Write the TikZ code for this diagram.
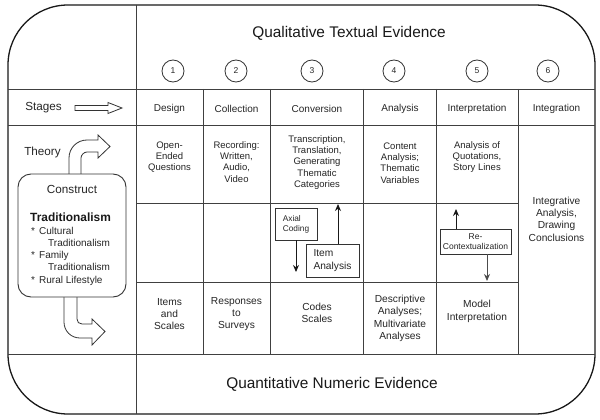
\documentclass[tikz,border=0pt]{standalone}
\usepackage{fontspec}
\setmainfont{Liberation Sans}
\usetikzlibrary{arrows.meta}
\begin{document}
\begin{tikzpicture}[x=1pt,y=-1pt,
  frame/.style={draw=black!90,line width=1.3pt},
  gridline/.style={draw=black!75,line width=0.9pt},
  cell/.style={align=center,inner sep=0pt,text=black!85,font=\fontsize{9.5}{11.2}\selectfont},
  cellb/.style={align=center,inner sep=0pt,text=black!85,font=\fontsize{10.2}{12.3}\selectfont},
  stagelbl/.style={inner sep=0pt,text=black!85,font=\fontsize{10}{12}\selectfont},
  rowlbl/.style={inner sep=0pt,text=black!85,font=\fontsize{11.7}{14}\selectfont},
  bigtitle/.style={inner sep=0pt,text=black!90,font=\fontsize{15.4}{18}\selectfont},
  numc/.style={circle,draw=black!80,line width=0.8pt,minimum size=22pt,inner sep=0pt,text=black!85,font=\fontsize{8.5}{10}\selectfont},
  smallbox/.style={draw=black!80,line width=0.8pt,inner sep=0pt,fill=white,text=black!85},
  hollow/.style={draw=black!80,line width=0.8pt,fill=white},
  listtxt/.style={inner sep=0pt,anchor=base west,text=black!85,font=\fontsize{10}{12}\selectfont},
  flow/.style={-{Stealth[length=7pt,width=6pt]},line width=1pt,draw=black!90}
]
\useasboundingbox (0,0) rectangle (600,420);
\fill[white] (0,0) rectangle (600,420);

% outer frame
\draw[frame,rounded corners=60pt] (8,5) rectangle (595,414);

% grid
\draw[gridline] (136,5) -- (136,414);
\draw[gridline] (8,89) -- (595,89);
\draw[gridline] (8,125) -- (595,125);
\draw[gridline] (8,354) -- (595,354);
\draw[gridline] (136,203) -- (518,203);
\draw[gridline] (136,282) -- (518,282);
\foreach \xx in {203,270,363,436,518} \draw[gridline] (\xx,89) -- (\xx,354);

% titles
\node[bigtitle] (qual) at (349,33) {Qualitative Textual Evidence};
\node[bigtitle] (quant) at (332,384) {Quantitative Numeric Evidence};

% numbered circles
\node[numc] (n1) at (173,71) {1};
\node[numc] (n2) at (236,71) {2};
\node[numc] (n3) at (312,71) {3};
\node[numc] (n4) at (394,71) {4};
\node[numc] (n5) at (477,71) {5};
\node[numc] (n6) at (548,71) {6};

% stage row
\node[rowlbl] (stages) at (43.5,108) {Stages};
\draw[hollow] (75,105.5) -- (108,105.5) -- (108,102.5) -- (122,108) -- (108,113.5) -- (108,110.5) -- (75,110.5) -- cycle;
\node[stagelbl] (s1) at (169.5,108.5) {Design};
\node[stagelbl] (s2) at (236.5,108.5) {Collection};
\node[stagelbl] (s3) at (317,108.5) {Conversion};
\node[stagelbl] (s4) at (400,108.5) {Analysis};
\node[stagelbl] (s5) at (477,108.5) {Interpretation};
\node[stagelbl] (s6) at (556.5,108.5) {Integration};

% qualitative row
\node[cell] (q1) at (169.5,157) {Open-\\Ended\\Questions};
\node[cell] (q2) at (236.5,162) {Recording:\\Written,\\Audio,\\Video};
\node[cell] (q3) at (317,162.5) {Transcription,\\Translation,\\Generating\\Thematic\\Categories};
\node[cell] (q4) at (400,163) {Content\\Analysis;\\Thematic\\Variables};
\node[cell] (q5) at (477,157) {Analysis of\\Quotations,\\Story Lines};
\node[cellb] (integ) at (556.5,219) {Integrative\\Analysis,\\Drawing\\Conclusions};

% quantitative row
\node[cellb] (r1) at (169.5,314) {Items\\and\\Scales};
\node[cellb] (r2) at (236.5,314) {Responses\\to\\Surveys};
\node[cellb] (r3) at (317,313) {Codes\\Scales};
\node[cellb] (r4) at (400,318.5) {Descriptive\\Analyses;\\Multivariate\\Analyses};
\node[cellb] (r5) at (477,311.5) {Model\\Interpretation};

% middle row boxes and arrows
\node[smallbox,minimum width=42pt,minimum height=32pt,align=left,font=\fontsize{8.3}{10}\selectfont] (axial) at (296,224) {Axial\\Coding};
\node[smallbox,minimum width=53pt,minimum height=33pt,align=left,font=\fontsize{10.2}{12.5}\selectfont] (item) at (332.5,260.5) {Item\\Analysis};
\node[smallbox,minimum width=71pt,minimum height=25pt,align=center,font=\fontsize{8.5}{9.5}\selectfont] (recon) at (475.5,241.5) {Re-\\Contextualization};
\coordinate (axEnd) at (296,272);
\coordinate (itEnd) at (338,204);
\coordinate (reUp) at (456,209);
\coordinate (reDown) at (487,281);
\draw[flow] (axial.south) -- (axEnd);
\draw[flow] ([xshift=5.5pt]item.north) -- (itEnd);
\draw[flow] ([xshift=-19.5pt]recon.north) -- (reUp);
\draw[flow,draw=black!70] ([xshift=11.5pt]recon.south) -- (reDown);

% theory and construct
\node[rowlbl] (theory) at (42.5,152) {Theory};
\draw[hollow] (69,175) -- (69,158) .. controls (69,148) and (77,140) .. (87,140) -- (98,140) -- (98,135) -- (110,146.5) -- (98,158) -- (98,152) -- (87,152) .. controls (84,152) and (81,155) .. (81,158) -- (81,175);
\draw[hollow] (64,296) -- (64,322) .. controls (64,331) and (71,338) .. (80,338) -- (92,338) -- (92,345) -- (105,331.5) -- (92,319) -- (92,324) -- (82,324) .. controls (79,324) and (77,322) .. (77,319) -- (77,296);
\node[draw=black!80,line width=0.9pt,fill=white,rounded corners=13pt,minimum width=108pt,minimum height=123pt] (construct) at (72,235.5) {};
\node[rowlbl] (ctitle) at (72,189) {Construct};
\node[inner sep=0pt,text=black!90,font=\bfseries\fontsize{11.9}{14}\selectfont] (trad) at (70.5,217) {Traditionalism};
\node[listtxt] (b1) at (31,234.6) {*};
\node[listtxt] (l1) at (39,234.6) {Cultural};
\node[listtxt] (l1b) at (48,246.6) {Traditionalism};
\node[listtxt] (b2) at (31,258.6) {*};
\node[listtxt] (l2) at (39,258.6) {Family};
\node[listtxt] (l2b) at (48,270.6) {Traditionalism};
\node[listtxt] (b3) at (31,283.4) {*};
\node[listtxt] (l3) at (39,283.4) {Rural Lifestyle};
\end{tikzpicture}
\end{document}
